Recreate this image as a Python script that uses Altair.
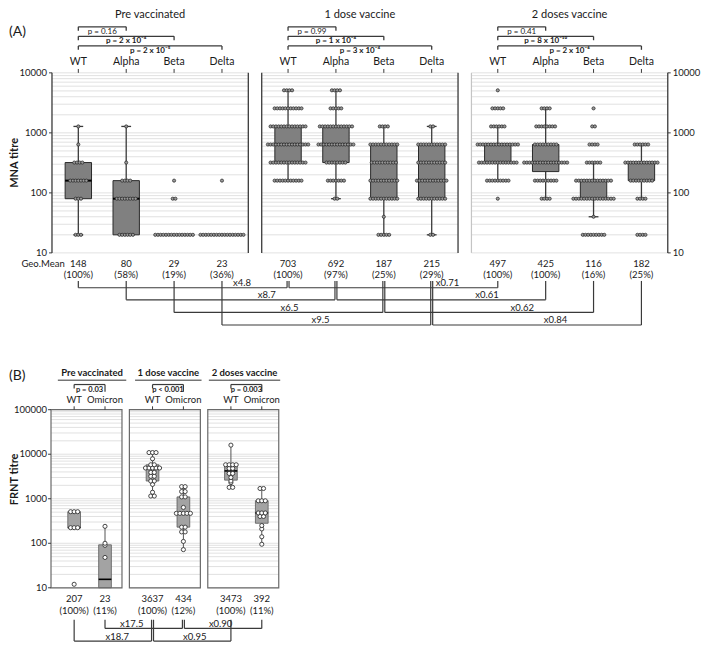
import altair as alt
import numpy as np
import pandas as pd
from collections import Counter

# ---------------- values ----------------
periods = ["Pre vaccinated", "1 dose vaccine", "2 doses vaccine"]

# (A) MNA titres: number of sera at each two-fold titre level
A_variants = ["WT", "Alpha", "Beta", "Delta"]
A_levels = [20, 40, 80, 160, 320, 640, 1280, 2560, 5120]
A_pre_WT = [3, 0, 3, 7, 4, 1, 1, 0, 0]
A_pre_Alpha = [6, 0, 8, 4, 1, 0, 1, 0, 0]
A_pre_Beta = [15, 0, 2, 1, 0, 0, 0, 0, 0]
A_pre_Delta = [17, 0, 0, 1, 0, 0, 0, 0, 0]
A_d1_WT = [0, 0, 0, 11, 14, 16, 14, 11, 4]
A_d1_Alpha = [0, 0, 2, 7, 8, 14, 13, 5, 4]
A_d1_Beta = [5, 1, 11, 11, 10, 11, 4, 0, 0]
A_d1_Delta = [2, 0, 11, 12, 11, 11, 2, 0, 0]
A_d2_WT = [0, 0, 1, 9, 15, 16, 6, 5, 1]
A_d2_Alpha = [0, 0, 4, 9, 17, 9, 8, 4, 0]
A_d2_Beta = [9, 1, 16, 14, 6, 4, 2, 1, 0]
A_d2_Delta = [4, 0, 4, 9, 13, 6, 0, 0, 0]
A_geomean = [["148", "80", "29", "23"], ["703", "692", "187", "215"], ["497", "425", "116", "182"]]
A_seropos = [["(100%)", "(58%)", "(19%)", "(36%)"],
             ["(100%)", "(97%)", "(25%)", "(29%)"],
             ["(100%)", "(100%)", "(16%)", "(25%)"]]
A_pvals = [["p = 0.16", "p = 2 x 10⁻⁴", "p = 2 x 10⁻⁵"],
           ["p = 0.99", "p = 1 x 10⁻⁴", "p = 3 x 10⁻⁴"],
           ["p = 0.41", "p = 8 x 10⁻¹⁰", "p = 2 x 10⁻⁶"]]
A_fold_1dose = ["x4.8", "x8.7", "x6.5", "x9.5"]
A_fold_2dose = ["x0.71", "x0.61", "x0.62", "x0.84"]

# (B) FRNT titres (individual sera; below-detection values as 5)
B_variants = ["WT", "Omicron"]
B_pre_WT = [12, 224, 224, 224, 512, 512, 512]
B_pre_Omicron = [5, 5, 5, 5, 48, 90, 100, 240]
B_d1_WT = [1150, 1150, 1400, 2100, 2500, 2500, 3200, 3200, 3900, 3900, 4900, 4900, 4900, 4900,
           4900, 5800, 5800, 7900, 10900, 10900, 10900]
B_d1_Omicron = [72, 110, 180, 180, 230, 230, 470, 470, 470, 470, 470, 640, 1100, 1100, 1450,
                1450, 1870, 1870]
B_d2_WT = [1800, 1800, 2300, 2500, 3000, 3700, 3700, 4800, 4800, 5800, 5800, 5800, 5800, 16000]
B_d2_Omicron = [95, 140, 210, 250, 400, 400, 480, 480, 480, 900, 900, 900, 1700, 1700]
B_geomean = [["207", "23"], ["3637", "434"], ["3473", "392"]]
B_seropos = [["(100%)", "(11%)"], ["(100%)", "(12%)"], ["(100%)", "(11%)"]]
B_pvals = ["p = 0.03", "p < 0.001", "p = 0.003"]
B_fold_1dose = ["x18.7", "x17.5"]   # WT row, Omicron row
B_fold_2dose = ["x0.95", "x0.90"]

# ---------------- layout (reference pixel space) ----------------
REF_W, REF_H = 709, 655
W, H = 693, 634
KX, KY = W / REF_W, H / REF_H


def px(v):
    return v * KX


def py(v):
    return v * KY


FONT = "Lato"
INK = "#1a1a1a"
LINE = "#3a3a3a"
GRID = "#d9d9d9"

A_L, A_R, A_T, A_B = 45, 675, 67, 253
A_OFF = [0.0, 4.38, 8.76]
A_DOM = [-0.55, 12.31]
A_UPX = (A_R - A_L) / (A_DOM[1] - A_DOM[0])
A_PITCH = 2.75 / A_UPX
A_HW = 13.5 / A_UPX
A_CAP = 5.0 / A_UPX
A_DD = 1.0 / A_UPX

B_L, B_R, B_T, B_B = 44, 277, 415, 599
B_OFF = [0.0, 2.54, 5.08]
B_DOM = [-0.75, 6.63]
B_UPX = (B_R - B_L) / (B_DOM[1] - B_DOM[0])
B_PITCH = 3.6 / B_UPX
B_HW = 6.5 / B_UPX
B_DD = 1.0 / B_UPX

scAx = alt.Scale(domain=A_DOM, range=[px(A_L), px(A_R)], nice=False, zero=False)
scAy = alt.Scale(type="log", domain=[10, 10000], range=[py(A_B), py(A_T)], nice=False)
scBx = alt.Scale(domain=B_DOM, range=[px(B_L), px(B_R)], nice=False, zero=False)
scBy = alt.Scale(type="log", domain=[10, 100000], range=[py(B_B), py(B_T)], nice=False, clamp=True)


def box_stats(vals):
    lv = np.log10(np.asarray(vals, dtype=float))
    q1, med, q3 = np.percentile(lv, [25, 50, 75])
    iqr = q3 - q1
    lo = lv[lv >= q1 - 1.5 * iqr - 1e-9].min()
    hi = lv[lv <= q3 + 1.5 * iqr + 1e-9].max()
    return 10 ** q1, 10 ** med, 10 ** q3, 10 ** lo, 10 ** hi


def X(f, sc):
    return alt.X(f"{f}:Q", scale=sc, axis=None)


def Y(f, sc):
    return alt.Y(f"{f}:Q", scale=sc, axis=None)


def text_layer(df, sc, y, size=10, weight="normal", align="center", xf="x", **kw):
    return alt.Chart(df).mark_text(font=FONT, fontSize=size, fontWeight=weight, align=align,
                                   baseline="middle", color=INK, **kw).encode(
        x=X(xf, sc), y=alt.value(py(y)), text="label:N")


def value_text(label, x, y, size=10, weight="normal", align="center", angle=0):
    return alt.Chart(pd.DataFrame({"label": [label]})).mark_text(
        font=FONT, fontSize=size, fontWeight=weight, align=align, baseline="middle",
        color=INK, angle=angle).encode(x=alt.value(px(x)), y=alt.value(py(y)), text="label:N")


def hrule(df, sc, y, color=LINE, width=1.1):
    return alt.Chart(df).mark_rule(color=color, strokeWidth=width).encode(
        x=X("xa", sc), x2="xb:Q", y=alt.value(py(y)))


def vrule(df, sc, y1, y2, xf="x", color=LINE, width=1.1):
    return alt.Chart(df).mark_rule(color=color, strokeWidth=width).encode(
        x=X(xf, sc), y=alt.value(py(y1)), y2=alt.value(py(y2)))


# ======================= PANEL A =======================
LA = []
A_counts = [[A_pre_WT, A_pre_Alpha, A_pre_Beta, A_pre_Delta],
            [A_d1_WT, A_d1_Alpha, A_d1_Beta, A_d1_Delta],
            [A_d2_WT, A_d2_Alpha, A_d2_Beta, A_d2_Delta]]

grid_A = [m * 10 ** e for e in range(1, 4) for m in range(1, 10)] + [10000]
gA = pd.DataFrame([{"x": o - 0.55, "x2": o + 3.55, "v": g} for o in A_OFF for g in grid_A])
LA.append(alt.Chart(gA).mark_rule(color=GRID, strokeWidth=0.8).encode(
    x=X("x", scAx), x2="x2:Q", y=Y("v", scAy)))

frA_dark = pd.DataFrame({"x": [A_OFF[0] - 0.55, A_OFF[0] + 3.55, A_OFF[1] - 0.55,
                               A_OFF[1] + 3.55, A_OFF[2] + 3.55], "v": 10, "v2": 10000})
frA_light = pd.DataFrame({"x": [A_OFF[2] - 0.55], "v": 10, "v2": 10000})
LA.append(alt.Chart(frA_light).mark_rule(color="#c4c4c4", strokeWidth=1.2).encode(
    x=X("x", scAx), y=Y("v", scAy), y2="v2:Q"))
LA.append(alt.Chart(frA_dark).mark_rule(color=LINE, strokeWidth=1.3).encode(
    x=X("x", scAx), y=Y("v", scAy), y2="v2:Q"))

dotsA, boxA = [], []
for p in range(3):
    for c in range(4):
        xc = A_OFF[p] + c
        vals = []
        for lev, k in zip(A_levels, A_counts[p][c]):
            for i in range(k):
                dotsA.append({"x": xc + (i - (k - 1) / 2) * A_PITCH, "v": lev})
            vals += [lev] * k
        q1, med, q3, lo, hi = box_stats(vals)
        boxA.append(dict(x=xc, x1=xc - A_HW, x2=xc + A_HW, c1=xc - A_CAP, c2=xc + A_CAP,
                         q1=q1, med=med, q3=q3, lo=lo, hi=hi))
boxA = pd.DataFrame(boxA)
dotsA = pd.DataFrame(dotsA)

wl = boxA[boxA.lo < boxA.q1 * 0.999]
wh = boxA[boxA.hi > boxA.q3 * 1.001]
bx = boxA[boxA.q3 > boxA.q1 * 1.001]
LA.append(alt.Chart(wl).mark_rule(color=LINE, strokeWidth=1.3).encode(
    x=X("x", scAx), y=Y("lo", scAy), y2="q1:Q"))
LA.append(alt.Chart(wh).mark_rule(color=LINE, strokeWidth=1.3).encode(
    x=X("x", scAx), y=Y("q3", scAy), y2="hi:Q"))
LA.append(alt.Chart(wl).mark_rule(color=LINE, strokeWidth=1.3).encode(
    x=X("c1", scAx), x2="c2:Q", y=Y("lo", scAy)))
LA.append(alt.Chart(wh).mark_rule(color=LINE, strokeWidth=1.3).encode(
    x=X("c1", scAx), x2="c2:Q", y=Y("hi", scAy)))
LA.append(alt.Chart(bx).mark_rect(color="#808080", stroke="#2a2a2a", strokeWidth=1).encode(
    x=X("x1", scAx), x2="x2:Q", y=Y("q1", scAy), y2="q3:Q"))
LA.append(alt.Chart(bx).mark_rule(color="#000000", strokeWidth=2).encode(
    x=X("x1", scAx), x2="x2:Q", y=Y("med", scAy)))
LA.append(alt.Chart(dotsA).mark_circle(size=10, color="#9a9a9a", stroke="#222222",
                                       strokeWidth=0.7, opacity=1).encode(
    x=X("x", scAx), y=Y("v", scAy)))

# y axes (left and right)
decA = pd.DataFrame({"v": [10, 100, 1000, 10000], "label": ["10", "100", "1000", "10000"]})
LA.append(alt.Chart(decA).mark_text(font=FONT, fontSize=9.5, align="right", baseline="middle",
                                    color=INK).encode(x=alt.value(px(40)), y=Y("v", scAy), text="label:N"))
LA.append(alt.Chart(decA).mark_text(font=FONT, fontSize=9.5, align="left", baseline="middle",
                                    color=INK).encode(x=alt.value(px(680)), y=Y("v", scAy), text="label:N"))
LA.append(alt.Chart(decA).mark_rule(color=LINE, strokeWidth=1).encode(
    x=alt.value(px(42)), x2=alt.value(px(45)), y=Y("v", scAy)))
LA.append(alt.Chart(decA).mark_rule(color=LINE, strokeWidth=1).encode(
    x=alt.value(px(675)), x2=alt.value(px(678)), y=Y("v", scAy)))

# category labels / ticks
catA = pd.DataFrame([{"x": A_OFF[p] + c, "label": A_variants[c]} for p in range(3) for c in range(4)])
LA.append(text_layer(catA, scAx, 56.3, size=10.5))
LA.append(vrule(catA, scAx, 63, 67, width=1))
titA = pd.DataFrame([{"x": A_OFF[p] + 1.5, "label": periods[p]} for p in range(3)])
LA.append(text_layer(titA, scAx, 7.5, size=11))

# p-value brackets
lev_y = [19.5, 29.3, 39.2]
for j in range(3):
    d = pd.DataFrame([{"xa": A_OFF[p], "xb": A_OFF[p] + j + 1, "x": A_OFF[p] + (j + 1) / 2,
                       "label": A_pvals[p][j]} for p in range(3)])
    LA.append(hrule(d, scAx, lev_y[j], width=1.3))
    LA.append(vrule(d, scAx, lev_y[j], lev_y[j] + 4, xf="xa", width=1.3))
    LA.append(vrule(d, scAx, lev_y[j], lev_y[j] + 4, xf="xb", width=1.3))
    LA.append(text_layer(d, scAx, lev_y[j] + 5.3, size=8,
                         weight="normal" if j == 0 else "bold"))

# geometric means
gmA = pd.DataFrame([{"x": A_OFF[p] + c, "label": A_geomean[p][c]} for p in range(3) for c in range(4)])
spA = pd.DataFrame([{"x": A_OFF[p] + c, "label": A_seropos[p][c]} for p in range(3) for c in range(4)])
LA.append(text_layer(gmA, scAx, 264, size=9.5))
LA.append(text_layer(spA, scAx, 275.5, size=9.5))
LA.append(value_text("Geo.Mean", 58, 264, size=9.5, align="right"))

# fold-change brackets
row_y = [289, 301.5, 314.5, 327.5]
frac_l = [0.78, 0.67, 0.55, 0.47]
frac_r = [0.76, 0.72, 0.66, 0.59]
for r in range(4):
    x0, x1, x2 = A_OFF[0] + r, A_OFF[1] + r, A_OFF[2] + r
    vx = pd.DataFrame({"x": [x0, x1 - A_DD, x1 + A_DD, x2]})
    LA.append(vrule(vx, scAx, 282, row_y[r], width=1.2))
    hx = pd.DataFrame({"xa": [x0, x1 + A_DD], "xb": [x1 - A_DD, x2]})
    LA.append(hrule(hx, scAx, row_y[r], width=1.2))
    lab = pd.DataFrame({"x": [x0 + frac_l[r] * (x1 - x0), x1 + frac_r[r] * (x2 - x1)],
                        "label": [A_fold_1dose[r], A_fold_2dose[r]]})
    LA.append(text_layer(lab, scAx, row_y[r] - 5, size=9.5))

LA.append(value_text("(A)", 1, 24.5, size=14, align="left"))
LA.append(value_text("MNA titre", 7, 160, size=11, weight="bold", angle=270))

# ======================= PANEL B =======================
LB = []
B_vals = [[B_pre_WT, B_pre_Omicron], [B_d1_WT, B_d1_Omicron], [B_d2_WT, B_d2_Omicron]]

grid_B = [m * 10 ** e for e in range(1, 5) for m in range(1, 10)] + [100000]
gB = pd.DataFrame([{"x": o - 0.75, "x2": o + 1.55, "v": g} for o in B_OFF for g in grid_B])
LB.append(alt.Chart(gB).mark_rule(color=GRID, strokeWidth=0.8).encode(
    x=X("x", scBx), x2="x2:Q", y=Y("v", scBy)))

dotsB, boxB = [], []
for p in range(3):
    for c in range(2):
        xc = B_OFF[p] + c
        vals = B_vals[p][c]
        cnt = Counter(vals)
        for lev in sorted(cnt):
            k = cnt[lev]
            for i in range(k):
                dotsB.append({"x": xc + (i - (k - 1) / 2) * B_PITCH, "v": lev})
        q1, med, q3, lo, hi = box_stats(vals)
        boxB.append(dict(x=xc, x1=xc - B_HW, x2=xc + B_HW, q1=q1, med=med, q3=q3, lo=lo, hi=hi))
boxB = pd.DataFrame(boxB)
dotsB = pd.DataFrame(dotsB)

wlB = boxB[boxB.lo < boxB.q1 * 0.999]
whB = boxB[boxB.hi > boxB.q3 * 1.001]
LB.append(alt.Chart(wlB).mark_rule(color="#555555", strokeWidth=1).encode(
    x=X("x", scBx), y=Y("lo", scBy), y2="q1:Q"))
LB.append(alt.Chart(whB).mark_rule(color="#555555", strokeWidth=1).encode(
    x=X("x", scBx), y=Y("q3", scBy), y2="hi:Q"))
LB.append(alt.Chart(boxB).mark_rect(color="#a3a3a3", stroke="#5a5a5a", strokeWidth=0.8).encode(
    x=X("x1", scBx), x2="x2:Q", y=Y("q1", scBy), y2="q3:Q"))
LB.append(alt.Chart(boxB).mark_rule(color="#000000", strokeWidth=1.6).encode(
    x=X("x1", scBx), x2="x2:Q", y=Y("med", scBy)))
LB.append(alt.Chart(dotsB).transform_filter("datum.v >= 10").mark_circle(
    size=17, fill="white", stroke="#333333", strokeWidth=0.9, opacity=1).encode(
    x=X("x", scBx), y=Y("v", scBy)))

frB = pd.DataFrame({"x": [o - 0.75 for o in B_OFF], "x2": [o + 1.55 for o in B_OFF],
                    "v": 10, "v2": 100000})
LB.append(alt.Chart(frB).mark_rect(fillOpacity=0, stroke="#6a6a6a", strokeWidth=1.2).encode(
    x=X("x", scBx), x2="x2:Q", y=Y("v", scBy), y2="v2:Q"))

decB = pd.DataFrame({"v": [10, 100, 1000, 10000, 100000],
                     "label": ["10", "100", "1000", "10000", "100000"]})
LB.append(alt.Chart(decB).mark_text(font=FONT, fontSize=9.5, align="right", baseline="middle",
                                    color=INK).encode(x=alt.value(px(40)), y=Y("v", scBy), text="label:N"))
LB.append(alt.Chart(decB).mark_rule(color=LINE, strokeWidth=1).encode(
    x=alt.value(px(41)), x2=alt.value(px(44)), y=Y("v", scBy)))

catB = pd.DataFrame([{"x": B_OFF[p] + c, "label": B_variants[c]} for p in range(3) for c in range(2)])
LB.append(text_layer(catB, scBx, 405, size=9.5))
LB.append(vrule(catB, scBx, 411.5, 415, width=1))

# underlined titles
tx = [86, 164, 242]
tw = [70, 68, 73]
titB = pd.DataFrame({"x": [B_DOM[0] + (t - B_L) / B_UPX for t in tx], "label": periods})
LB.append(text_layer(titB, scBx, 377, size=9.5, weight="bold"))
ulB = pd.DataFrame({"xa": [B_DOM[0] + (t - w / 2 - B_L) / B_UPX for t, w in zip(tx, tw)],
                    "xb": [B_DOM[0] + (t + w / 2 - B_L) / B_UPX for t, w in zip(tx, tw)]})
LB.append(hrule(ulB, scBx, 384.5, color="#333333", width=1))

pb = pd.DataFrame([{"xa": B_OFF[p], "xb": B_OFF[p] + 1, "x": B_OFF[p] + 0.5, "label": B_pvals[p]}
                   for p in range(3)])
LB.append(hrule(pb, scBx, 389, width=1.2))
LB.append(vrule(pb, scBx, 389, 393, xf="xa", width=1.2))
LB.append(vrule(pb, scBx, 389, 396.5, xf="xb", width=1.2))
LB.append(text_layer(pb, scBx, 395, size=7.5, weight="bold"))

gmB = pd.DataFrame([{"x": B_OFF[p] + c, "label": B_geomean[p][c]} for p in range(3) for c in range(2)])
spB = pd.DataFrame([{"x": B_OFF[p] + c, "label": B_seropos[p][c]} for p in range(3) for c in range(2)])
LB.append(text_layer(gmB, scBx, 611, size=9.5))
LB.append(text_layer(spB, scBx, 623, size=9.5))

rowB_y = [654, 641]          # WT row, Omicron row
fracB_l = [0.55, 0.34]
fracB_r = [0.54, 0.475]
for c in range(2):
    x0, x1, x2 = B_OFF[0] + c, B_OFF[1] + c, B_OFF[2] + c
    vx = pd.DataFrame({"x": [x0, x1 - B_DD, x1 + B_DD, x2]})
    LB.append(vrule(vx, scBx, 632, rowB_y[c], width=1.2))
    hx = pd.DataFrame({"xa": [x0, x1 + B_DD], "xb": [x1 - B_DD, x2]})
    LB.append(hrule(hx, scBx, rowB_y[c], width=1.2))
    lab = pd.DataFrame({"x": [x0 + fracB_l[c] * (x1 - x0), x1 + fracB_r[c] * (x2 - x1)],
                        "label": [B_fold_1dose[c], B_fold_2dose[c]]})
    LB.append(text_layer(lab, scBx, rowB_y[c] - 4.5, size=9.5))

LB.append(value_text("(B)", 1, 380, size=14, align="left"))
LB.append(value_text("FRNT titre", 7, 487, size=11, weight="bold", angle=270))

chartA = alt.layer(*LA)
chartB = alt.layer(*LB)
chart = alt.layer(chartA, chartB).resolve_scale(x="independent", y="independent").properties(
    width=W, height=H, padding=0, autosize=alt.AutoSizeParams(type="none"), background="white"
).configure_view(stroke=None)

chart.save("out.html", embed_options={"renderer": "svg", "actions": False})
